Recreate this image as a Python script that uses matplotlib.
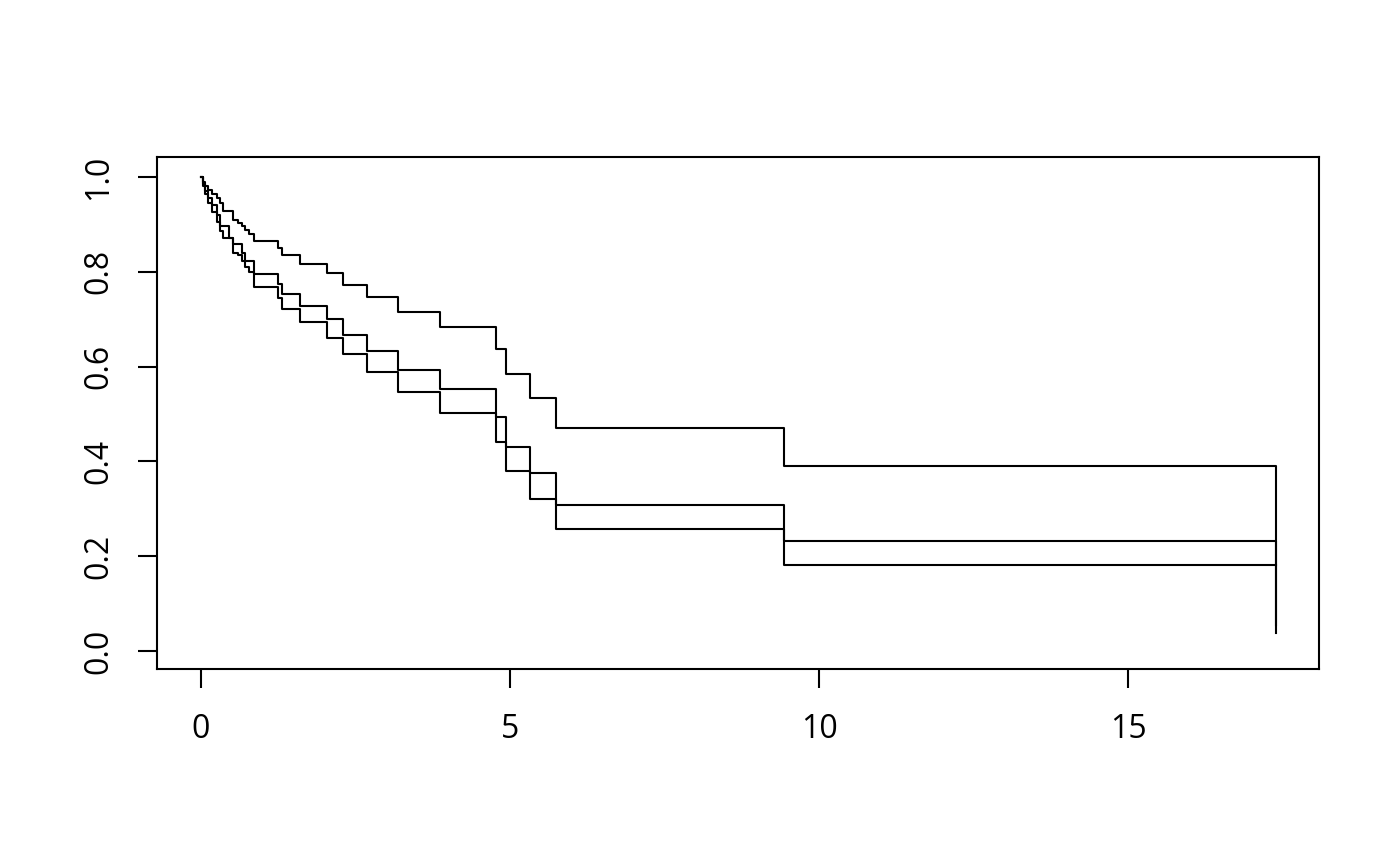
import matplotlib
import matplotlib.pyplot as plt

matplotlib.use('agg')

# shared event times and the three step curves
times = [0.03, 0.07, 0.11, 0.18, 0.26, 0.31, 0.36, 0.45, 0.52, 0.60, 0.66, 0.71, 0.78, 0.85,
         1.25, 1.31, 1.60, 2.04, 2.30, 2.68, 3.18, 3.86, 4.77, 4.94, 5.33, 5.74, 9.43, 17.40]
curve_a = [0.990, 0.980, 0.973, 0.965, 0.955, 0.945, 0.928, 0.928, 0.909, 0.903, 0.897, 0.888, 0.880, 0.864,
           0.849, 0.835, 0.816, 0.797, 0.773, 0.746, 0.716, 0.684, 0.636, 0.585, 0.534, 0.471, 0.391, 0.055]
curve_b = [0.985, 0.970, 0.955, 0.940, 0.920, 0.897, 0.897, 0.872, 0.858, 0.858, 0.840, 0.823, 0.823, 0.795,
           0.775, 0.754, 0.728, 0.700, 0.667, 0.633, 0.593, 0.552, 0.441, 0.379, 0.321, 0.257, 0.181, 0.181]
curve_c = [0.980, 0.965, 0.945, 0.925, 0.905, 0.885, 0.872, 0.872, 0.840, 0.835, 0.823, 0.809, 0.800, 0.767,
           0.744, 0.722, 0.693, 0.661, 0.627, 0.589, 0.546, 0.503, 0.493, 0.431, 0.375, 0.308, 0.231, 0.038]

x_ticks = [0, 5, 10, 15]
y_ticks = [0.0, 0.2, 0.4, 0.6, 0.8, 1.0]

plt.rcParams['font.family'] = ['Open Sans', 'DejaVu Sans']

fig = plt.figure(figsize=(14, 8.66), dpi=100)
ax = fig.add_axes([157 / 1400, 1 - 669 / 866, (1319 - 157) / 1400, (669 - 157) / 866])

for curve in (curve_a, curve_b, curve_c):
    xs = [0] + times
    ys = [1.0] + curve
    ax.step(xs, ys, where='post', color='black', linewidth=1.5)

ax.set_xlim(-0.712, 18.09)
ax.set_ylim(-0.038, 1.042)
ax.set_xticks(x_ticks)
ax.set_xticklabels([str(t) for t in x_ticks])
ax.set_yticks(y_ticks)
ax.set_yticklabels(['{0:.1f}'.format(t) for t in y_ticks])
for lbl in ax.get_yticklabels():
    lbl.set_rotation(90)
    lbl.set_va('center')

ax.tick_params(direction='out', length=14, width=1.5, labelsize=23, colors='black')
ax.tick_params(axis='x', pad=18)
ax.tick_params(axis='y', pad=16)
for side in ax.spines.values():
    side.set_linewidth(1.5)

fig.savefig('out.png', dpi=100)
plt.close()
